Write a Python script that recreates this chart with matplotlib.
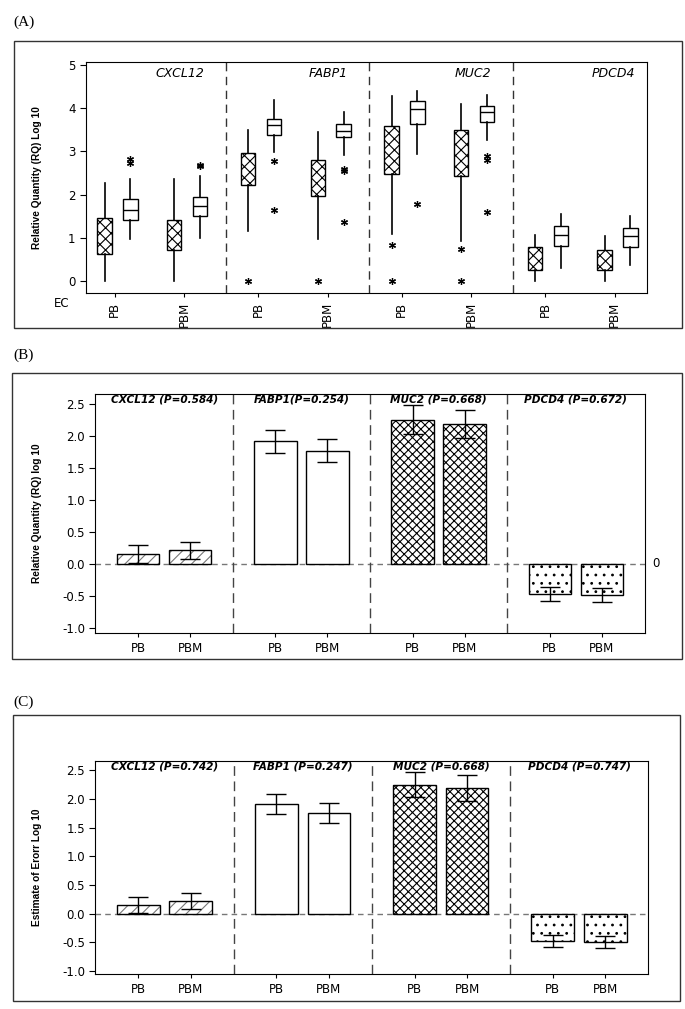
import matplotlib
matplotlib.use("Agg")
import matplotlib.pyplot as plt
from matplotlib.patches import Rectangle

plt.rcParams['font.family'] = ['DejaVu Sans']
plt.rcParams['hatch.linewidth'] = 0.8

# ---- data ----
genes = ['CXCL12', 'FABP1', 'MUC2', 'PDCD4']
groups = ['PB', 'PBM']

# panel A: box stats, order = CXCL12 PB, CXCL12 PBM, FABP1 PB, ... PDCD4 PBM
hat_lo = [0.0, 0.0, 1.15, 0.97, 1.08, 0.93, 0.0, 0.0]
hat_q1 = [0.62, 0.72, 2.21, 1.96, 2.48, 2.43, 0.26, 0.25]
hat_med = [1.0, 1.0, 2.7, 2.5, 3.2, 3.2, 0.5, 0.45]
hat_q3 = [1.45, 1.41, 2.96, 2.79, 3.58, 3.49, 0.78, 0.71]
hat_hi = [2.27, 2.37, 3.5, 3.45, 4.28, 4.09, 1.06, 1.04]
hat_fliers = [[], [], [0.0], [0.0], [0.83, 0.0], [0.73, 0.0], [], []]

wht_lo = [0.98, 1.0, 2.98, 2.92, 2.93, 3.26, 0.29, 0.37]
wht_q1 = [1.4, 1.5, 3.39, 3.33, 3.64, 3.68, 0.82, 0.79]
wht_med = [1.65, 1.73, 3.6, 3.47, 3.97, 3.9, 1.06, 1.03]
wht_q3 = [1.9, 1.95, 3.74, 3.64, 4.17, 4.06, 1.28, 1.22]
wht_hi = [2.35, 2.42, 4.19, 3.91, 4.4, 4.3, 1.55, 1.5]
wht_fliers = [[2.72, 2.82], [2.65, 2.68], [2.78, 1.65], [2.6, 2.55, 1.36],
              [1.78], [2.9, 2.8, 1.59], [], []]

# panel B: relative quantity
b_mean = [0.15, 0.21, 1.91, 1.76, 2.25, 2.18, -0.47, -0.49]
b_err = [0.14, 0.135, 0.18, 0.18, 0.22, 0.22, 0.105, 0.105]
b_pval = ['0.584', '0.254', '0.668', '0.672']

# panel C: estimate of error
c_mean = [0.145, 0.215, 1.91, 1.76, 2.25, 2.19, -0.47, -0.49]
c_err = [0.14, 0.14, 0.175, 0.175, 0.225, 0.22, 0.105, 0.105]
c_pval = ['0.742', '0.247', '0.668', '0.747']

fig = plt.figure(figsize=(6.85, 10.09), dpi=100)

# outer frames and panel letters
for (x0, y0, w, h) in [(0.0204, 0.675, 0.975, 0.2844),
                       (0.0175, 0.3469, 0.978, 0.2834),
                       (0.019, 0.0079, 0.974, 0.2834)]:
    fig.add_artist(Rectangle((x0, y0), w, h, transform=fig.transFigure,
                             fill=False, lw=1, ec='#333333'))
for lab, y in [('(A)', 0.978), ('(B)', 0.648), ('(C)', 0.304)]:
    fig.text(0.019, y, lab, family='Liberation Serif', fontsize=11, va='center')

ylab_font = dict(family='Liberation Sans', fontweight='bold', fontsize=7.3)

# ---------------- Panel A ----------------
axA = fig.add_axes([0.1255, 0.7096, 0.819, 0.229])
tick_pos = []
hat_pos, wht_pos = [], []
for g in range(4):
    for off in [0.45, 1.42]:
        tick_pos.append(2 * g + off)
        hat_pos.append(2 * g + off - 0.14)
        wht_pos.append(2 * g + off + 0.22)

def stats(lo, q1, med, q3, hi, fl):
    return [dict(whislo=a, q1=b, med=c, q3=d, whishi=e, fliers=f)
            for a, b, c, d, e, f in zip(lo, q1, med, q3, hi, fl)]

flier = dict(marker=(6, 2, 0), markersize=5, markeredgecolor='black',
             markeredgewidth=0.9, linestyle='none')
bh = axA.bxp(stats(hat_lo, hat_q1, hat_med, hat_q3, hat_hi, hat_fliers),
             positions=hat_pos, widths=0.2, patch_artist=True, showcaps=False,
             boxprops=dict(facecolor='white', edgecolor='black', linewidth=1),
             whiskerprops=dict(color='black', linewidth=1.2),
             medianprops=dict(linewidth=0), flierprops=flier, manage_ticks=False)
for b in bh['boxes']:
    b.set_hatch('xxx')
axA.bxp(stats(wht_lo, wht_q1, wht_med, wht_q3, wht_hi, wht_fliers),
        positions=wht_pos, widths=0.2, patch_artist=True, showcaps=False,
        boxprops=dict(facecolor='white', edgecolor='black', linewidth=1),
        whiskerprops=dict(color='black', linewidth=1.2),
        medianprops=dict(color='black', linewidth=1), flierprops=flier,
        manage_ticks=False)

for xd in [2, 4, 6]:
    axA.axvline(xd, color='#333333', ls=(0, (6, 4)), lw=1)
for g, gene in enumerate(genes):
    axA.text(2 * g + 1.7, 4.81, gene, style='italic', fontsize=9,
             ha='right', va='center')
axA.set_xlim(0.05, 7.87)
axA.set_ylim(-0.28, 5.07)
axA.set_yticks([0, 1, 2, 3, 4, 5])
axA.set_xticks(tick_pos)
axA.set_xticklabels(groups * 4, rotation=90, fontsize=8.5)
axA.tick_params(axis='y', labelsize=8.5, length=4)
axA.tick_params(axis='x', length=3)
axA.set_ylabel('Relative Quantity (RQ) Log 10', **ylab_font)
axA.yaxis.set_label_coords(-0.078, 0.5)
axA.text(-0.043, -0.045, 'EC', transform=axA.transAxes, fontsize=8.5,
         ha='center', va='center')

# ---------------- Panels B and C ----------------
bar_pos = []
for g in range(4):
    bar_pos += [2 * g + 0.62, 2 * g + 1.38]
hatches = ['///', '', 'xxxx', '..']

def bar_panel(ax, mean, err, pvals, ylabel, zero_label, fabp_space):
    for g in range(4):
        xs = bar_pos[2 * g:2 * g + 2]
        ys = mean[2 * g:2 * g + 2]
        hc = '#777777' if g == 0 else 'black'
        ax.bar(xs, ys, width=0.62, color='white', edgecolor=hc,
               linewidth=0, hatch=hatches[g])
        ax.bar(xs, ys, width=0.62, fill=False, edgecolor='black', linewidth=1)
    ax.errorbar(bar_pos, mean, yerr=err, fmt='none', ecolor='black',
                elinewidth=1, capsize=7, capthick=1)
    ax.axhline(0, color='#777777', ls=(0, (4, 3)), lw=1, zorder=0.5)
    for xd in [2, 4, 6]:
        ax.axvline(xd, color='#444444', ls=(0, (7, 4)), lw=1)
    for g, gene in enumerate(genes):
        sep = '' if (gene == 'FABP1' and not fabp_space) else ' '
        ax.text(2 * g + 1, 2.56, f'{gene}{sep}(P={pvals[g]})', style='italic',
                fontweight='bold', fontsize=7.6, ha='center', va='center')
    ticks = [-1.0, -0.5, 0.0, 0.5, 1.0, 1.5, 2.0, 2.5]
    ax.set_xlim(0, 8)
    ax.set_ylim(-1.08, 2.65)
    ax.set_yticks(ticks)
    ax.set_yticklabels([f'{v:.1f}' for v in ticks])
    ax.set_xticks(bar_pos)
    ax.set_xticklabels(groups * 4, fontsize=8.5)
    ax.tick_params(axis='y', labelsize=8.5, length=4)
    ax.tick_params(axis='x', length=3)
    ax.set_ylabel(ylabel, **ylab_font)
    ax.yaxis.set_label_coords(-0.097, 0.5)
    if zero_label:
        ax.text(1.02, 0, '0', transform=ax.get_yaxis_transform(),
                fontsize=8.5, va='center', ha='center')

axB = fig.add_axes([0.1394, 0.3727, 0.8015, 0.2369])
bar_panel(axB, b_mean, b_err, b_pval, 'Relative Quantity (RQ) log 10', True, False)

axC = fig.add_axes([0.1394, 0.0347, 0.8066, 0.2111])
bar_panel(axC, c_mean, c_err, c_pval, 'Estimate of Erorr Log 10', False, True)
axC.set_ylim(-1.05, 2.66)

fig.savefig('out.png', dpi=100)
